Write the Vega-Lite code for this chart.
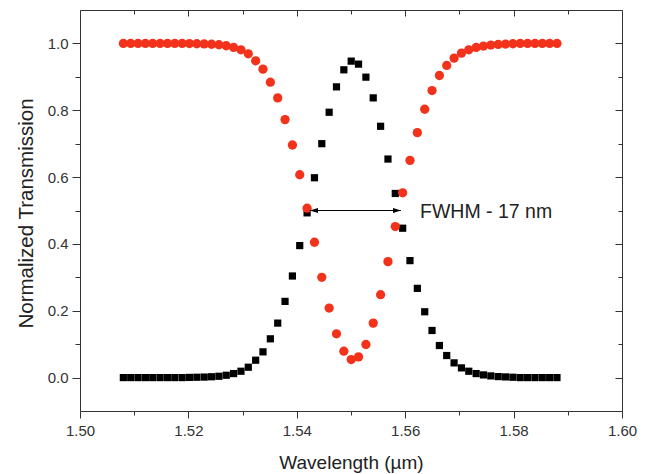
{
  "$schema": "https://vega.github.io/schema/vega-lite/v6.json",
  "width": 542,
  "height": 401,
  "autosize": "none",
  "padding": {"left": 80, "top": 10, "right": 31, "bottom": 63},
  "background": "white",
  "config": {
    "view": {"stroke": "#333", "strokeWidth": 1},
    "axis": {"grid": false, "domain": false, "tickColor": "#333", "labelFont": "Liberation Sans", "titleFont": "Liberation Sans", "labelColor": "#333", "titleColor": "#222", "labelFlush": false, "labelOverlap": false, "labelBound": false}
  },
  "datasets": {
    "black": [
      {"wl": 1.50800, "t": 0.000}, {"wl": 1.50936, "t": 0.000}, {"wl": 1.51071, "t": 0.000}, {"wl": 1.51207, "t": 0.000},
      {"wl": 1.51342, "t": 0.000}, {"wl": 1.51478, "t": 0.000}, {"wl": 1.51614, "t": 0.000}, {"wl": 1.51749, "t": 0.000},
      {"wl": 1.51885, "t": 0.000}, {"wl": 1.52020, "t": 0.0005}, {"wl": 1.52156, "t": 0.001}, {"wl": 1.52292, "t": 0.0015},
      {"wl": 1.52427, "t": 0.0025}, {"wl": 1.52563, "t": 0.004}, {"wl": 1.52698, "t": 0.007}, {"wl": 1.52834, "t": 0.012},
      {"wl": 1.52970, "t": 0.019}, {"wl": 1.53105, "t": 0.031}, {"wl": 1.53241, "t": 0.052}, {"wl": 1.53376, "t": 0.077},
      {"wl": 1.53512, "t": 0.116}, {"wl": 1.53648, "t": 0.163}, {"wl": 1.53783, "t": 0.228}, {"wl": 1.53919, "t": 0.304},
      {"wl": 1.54054, "t": 0.395}, {"wl": 1.54190, "t": 0.493}, {"wl": 1.54326, "t": 0.598}, {"wl": 1.54461, "t": 0.700},
      {"wl": 1.54597, "t": 0.794}, {"wl": 1.54732, "t": 0.870}, {"wl": 1.54868, "t": 0.921}, {"wl": 1.55004, "t": 0.947},
      {"wl": 1.55139, "t": 0.938}, {"wl": 1.55275, "t": 0.899}, {"wl": 1.55410, "t": 0.837}, {"wl": 1.55546, "t": 0.752},
      {"wl": 1.55682, "t": 0.654}, {"wl": 1.55817, "t": 0.551}, {"wl": 1.55953, "t": 0.447}, {"wl": 1.56088, "t": 0.350},
      {"wl": 1.56224, "t": 0.267}, {"wl": 1.56360, "t": 0.197}, {"wl": 1.56495, "t": 0.141}, {"wl": 1.56631, "t": 0.096},
      {"wl": 1.56766, "t": 0.066}, {"wl": 1.56902, "t": 0.044}, {"wl": 1.57038, "t": 0.029}, {"wl": 1.57173, "t": 0.019},
      {"wl": 1.57309, "t": 0.012}, {"wl": 1.57444, "t": 0.008}, {"wl": 1.57580, "t": 0.005}, {"wl": 1.57716, "t": 0.003},
      {"wl": 1.57851, "t": 0.002}, {"wl": 1.57987, "t": 0.001}, {"wl": 1.58122, "t": 0.000}, {"wl": 1.58258, "t": 0.000},
      {"wl": 1.58394, "t": 0.000}, {"wl": 1.58529, "t": 0.000}, {"wl": 1.58665, "t": 0.000}, {"wl": 1.58800, "t": 0.000}
    ],
    "red": [
      {"wl": 1.50800, "t": 1.000}, {"wl": 1.50936, "t": 1.000}, {"wl": 1.51071, "t": 1.000}, {"wl": 1.51207, "t": 1.000},
      {"wl": 1.51342, "t": 1.000}, {"wl": 1.51478, "t": 1.000}, {"wl": 1.51614, "t": 1.000}, {"wl": 1.51749, "t": 1.000},
      {"wl": 1.51885, "t": 1.000}, {"wl": 1.52020, "t": 0.9995}, {"wl": 1.52156, "t": 0.999}, {"wl": 1.52292, "t": 0.9985},
      {"wl": 1.52427, "t": 0.9975}, {"wl": 1.52563, "t": 0.996}, {"wl": 1.52698, "t": 0.993}, {"wl": 1.52834, "t": 0.988},
      {"wl": 1.52970, "t": 0.981}, {"wl": 1.53105, "t": 0.969}, {"wl": 1.53241, "t": 0.948}, {"wl": 1.53376, "t": 0.923},
      {"wl": 1.53512, "t": 0.884}, {"wl": 1.53648, "t": 0.837}, {"wl": 1.53783, "t": 0.772}, {"wl": 1.53919, "t": 0.696},
      {"wl": 1.54054, "t": 0.607}, {"wl": 1.54190, "t": 0.507}, {"wl": 1.54326, "t": 0.405}, {"wl": 1.54461, "t": 0.300},
      {"wl": 1.54597, "t": 0.208}, {"wl": 1.54732, "t": 0.131}, {"wl": 1.54868, "t": 0.079}, {"wl": 1.55004, "t": 0.054},
      {"wl": 1.55139, "t": 0.062}, {"wl": 1.55275, "t": 0.099}, {"wl": 1.55410, "t": 0.163}, {"wl": 1.55546, "t": 0.248},
      {"wl": 1.55682, "t": 0.347}, {"wl": 1.55817, "t": 0.452}, {"wl": 1.55953, "t": 0.553}, {"wl": 1.56088, "t": 0.650},
      {"wl": 1.56224, "t": 0.733}, {"wl": 1.56360, "t": 0.803}, {"wl": 1.56495, "t": 0.859}, {"wl": 1.56631, "t": 0.904},
      {"wl": 1.56766, "t": 0.934}, {"wl": 1.56902, "t": 0.956}, {"wl": 1.57038, "t": 0.971}, {"wl": 1.57173, "t": 0.981},
      {"wl": 1.57309, "t": 0.988}, {"wl": 1.57444, "t": 0.992}, {"wl": 1.57580, "t": 0.995}, {"wl": 1.57716, "t": 0.997},
      {"wl": 1.57851, "t": 0.998}, {"wl": 1.57987, "t": 0.999}, {"wl": 1.58122, "t": 1.000}, {"wl": 1.58258, "t": 1.000},
      {"wl": 1.58394, "t": 1.000}, {"wl": 1.58529, "t": 1.000}, {"wl": 1.58665, "t": 1.000}, {"wl": 1.58800, "t": 1.000}
    ],
    "arrow": [{"x1": 1.5424, "x2": 1.5592, "y": 0.5}],
    "heads": [{"x": 1.54317, "y": 0.5, "dir": "left"}, {"x": 1.55849, "y": 0.5, "dir": "right"}],
    "label": [{"x": 1.56273, "y": 0.5, "text": "FWHM - 17 nm"}]
  },
  "resolve": {"axis": {"x": "independent", "y": "independent"}},
  "layer": [
    {
      "data": {"name": "black"},
      "mark": {"type": "point", "shape": "square", "filled": true, "size": 52, "color": "#000", "opacity": 1},
      "encoding": {
        "x": {"field": "wl", "type": "quantitative", "scale": {"domain": [1.5, 1.6], "nice": false, "zero": false},
          "axis": {"orient": "bottom", "values": [1.5, 1.52, 1.54, 1.56, 1.58, 1.6], "format": ".2f", "tickSize": 7, "labelFontSize": 15, "labelPadding": 5,
            "title": "Wavelength (µm)", "titleFontSize": 19, "titleFontWeight": "normal", "titleY": 57, "titleBaseline": "alphabetic"}},
        "y": {"field": "t", "type": "quantitative", "scale": {"domain": [-0.1, 1.1], "nice": false, "zero": false},
          "axis": {"orient": "left", "values": [0, 0.2, 0.4, 0.6, 0.8, 1.0], "format": ".1f", "tickSize": 8, "labelFontSize": 15, "labelPadding": 4,
            "title": "Normalized Transmission", "titleFontSize": 20.5, "titleFontWeight": "normal", "titleAngle": -90, "titleX": -48, "titleY": 203, "titleAlign": "center", "titleBaseline": "alphabetic"}}
      }
    },
    {
      "data": {"name": "red"},
      "mark": {"type": "point", "shape": "circle", "filled": true, "size": 86, "color": "#f3321c", "opacity": 1},
      "encoding": {
        "x": {"field": "wl", "type": "quantitative",
          "axis": {"orient": "bottom", "values": [1.51, 1.53, 1.55, 1.57, 1.59], "tickSize": 4, "labels": false, "title": null}},
        "y": {"field": "t", "type": "quantitative",
          "axis": {"orient": "left", "values": [0.1, 0.3, 0.5, 0.7, 0.9], "tickSize": 5, "labels": false, "title": null}}
      }
    },
    {
      "data": {"name": "arrow"},
      "mark": {"type": "rule", "color": "#000", "strokeWidth": 1},
      "encoding": {
        "x": {"field": "x1", "type": "quantitative",
          "axis": {"orient": "top", "values": [1.5, 1.52, 1.54, 1.56, 1.58, 1.6], "tickSize": -6, "labels": false, "title": null}},
        "x2": {"field": "x2"},
        "y": {"field": "y", "type": "quantitative",
          "axis": {"orient": "right", "values": [0, 0.2, 0.4, 0.6, 0.8, 1.0], "tickSize": -7, "labels": false, "title": null}}
      }
    },
    {
      "data": {"name": "heads"},
      "mark": {"type": "point", "filled": true, "size": 64, "color": "#000", "opacity": 1},
      "encoding": {
        "x": {"field": "x", "type": "quantitative",
          "axis": {"orient": "top", "values": [1.51, 1.53, 1.55, 1.57, 1.59], "tickSize": -4, "labels": false, "title": null}},
        "y": {"field": "y", "type": "quantitative",
          "axis": {"orient": "right", "values": [0.1, 0.3, 0.5, 0.7, 0.9], "tickSize": -4, "labels": false, "title": null}},
        "shape": {"field": "dir", "type": "nominal", "legend": null,
          "scale": {"domain": ["left", "right"], "range": ["M-1,0L1,-0.6L1,0.6Z", "M1,0L-1,-0.6L-1,0.6Z"]}}
      }
    },
    {
      "data": {"name": "label"},
      "mark": {"type": "text", "align": "left", "baseline": "middle", "font": "Liberation Sans", "fontSize": 19.5, "color": "#222", "dy": 1},
      "encoding": {
        "x": {"field": "x", "type": "quantitative", "axis": null},
        "y": {"field": "y", "type": "quantitative", "axis": null},
        "text": {"field": "text"}
      }
    }
  ]
}
